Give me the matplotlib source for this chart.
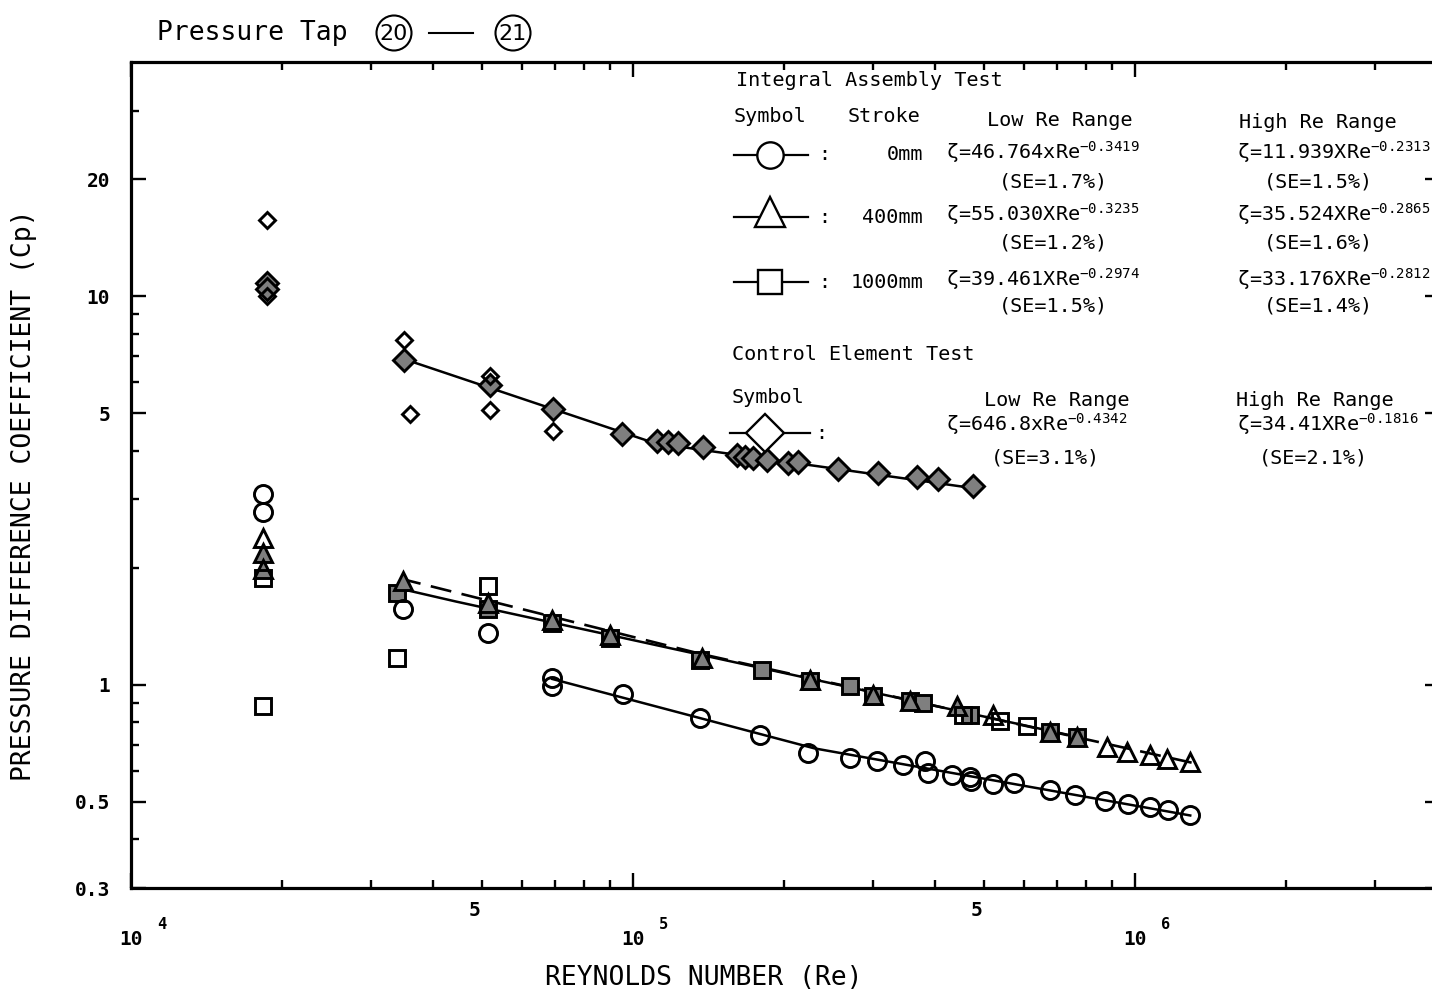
import matplotlib
matplotlib.use("Agg")
import matplotlib.pyplot as plt
from matplotlib.lines import Line2D
from matplotlib.patches import Ellipse
from matplotlib.ticker import FixedLocator, FixedFormatter, NullFormatter

# ── Data ───────────────────────────────────────────────────────────────────
# Control element test (diamonds)
dia_open_re = [18700, 18700, 35000, 36000, 51900, 51900, 69300]
dia_open_cp = [15.7, 10.0, 7.72, 4.96, 6.21, 5.08, 4.49]
dia_shad_re = [18700, 18700, 35000, 51900, 69300, 95000, 111700, 117500, 123000,
               137800, 161000, 167000, 173300, 184800, 203600, 213200, 256000,
               307500, 368000, 405000, 475600]
dia_shad_cp = [10.8, 10.4, 6.86, 5.92, 5.11, 4.41, 4.23, 4.21, 4.18,
               4.08, 3.90, 3.85, 3.83, 3.78, 3.72, 3.74, 3.59,
               3.50, 3.42, 3.38, 3.25]

# Integral assembly test, stroke 0 mm (circles)
cir_re = [18300, 18300, 34800, 51400, 69000, 69000, 95500, 135900, 179000, 223300,
          270600, 306100, 345000, 381900, 387200, 432000, 469000, 472000, 521000,
          574000, 677500, 759000, 871000, 968000, 1071000, 1164000, 1288000]
cir_cp = [3.10, 2.79, 1.57, 1.36, 1.04, 0.99, 0.948, 0.823, 0.741, 0.666,
          0.647, 0.635, 0.621, 0.635, 0.592, 0.585, 0.578, 0.565, 0.555,
          0.558, 0.536, 0.520, 0.502, 0.493, 0.485, 0.476, 0.462]

# stroke 400 mm (triangles)
tri_open_re = [18300, 521000, 879000, 963000, 1071000, 1158000, 1288000]
tri_open_cp = [2.38, 0.834, 0.690, 0.670, 0.658, 0.643, 0.632]
tri_shad_re = [18300, 18300, 34800, 51400, 69000, 90000, 137000, 225400, 300800,
               356300, 442000, 677500, 766000]
tri_shad_cp = [2.18, 1.99, 1.845, 1.62, 1.47, 1.34, 1.17, 1.03, 0.94,
               0.91, 0.88, 0.754, 0.732]

# stroke 1000 mm (squares)
sq_open_re = [18300, 18300, 33880, 51400, 454300, 538000, 609500]
sq_open_cp = [1.88, 0.884, 1.17, 1.80, 0.838, 0.809, 0.785]
sq_shad_re = [33880, 51400, 69000, 90000, 135900, 180700, 225400, 270600, 300800,
              356300, 378200, 469000, 677500, 766000]
sq_shad_cp = [1.72, 1.57, 1.44, 1.32, 1.16, 1.09, 1.02, 0.994, 0.937,
              0.910, 0.899, 0.838, 0.754, 0.732]

# fitted curves (start, low/high break, end)
fit_cir_re = [69000, 229800, 1288000]
fit_cir_cp = [1.035, 0.686, 0.461]
fit_tri_re = [34350, 137000, 1299000]
fit_tri_cp = [1.876, 1.199, 0.630]
fit_sq_re = [33000, 44400, 769000]
fit_sq_cp = [1.788, 1.637, 0.734]
fit_dia_re = [35140, 110700, 479800]
fit_dia_cp = [6.87, 4.18, 3.20]

y_ticks = [0.3, 0.5, 1, 5, 10, 20]
y_ticklabels = ["0.3", "0.5", "1", "5", "10", "20"]
y_minor = [0.4, 0.6, 0.7, 0.8, 0.9, 2, 3, 4, 6, 7, 8, 9, 30]
x_decades = [1e4, 1e5, 1e6]
x_exponents = ["4", "5", "6"]
x_fives = [5e4, 5e5]

# ── Style ──────────────────────────────────────────────────────────────────
W, H = 1432, 996
plt.rcParams.update({
    "font.family": ["DejaVu Sans Mono", "DejaVu Sans"],
    "mathtext.fontset": "custom",
    "mathtext.rm": "DejaVu Sans Mono",
    "mathtext.it": "DejaVu Sans Mono",
    "mathtext.bf": "DejaVu Sans Mono:bold",
})
SHADE = "#7f7f7f"
TXT = 14.5


def fp(px, py):
    """pixel position -> figure fraction"""
    return px / W, 1 - py / H


fig = plt.figure(figsize=(W / 100, H / 100), dpi=100)
ax = fig.add_axes([131 / W, 1 - 888 / H, (1440 - 131) / W, (888 - 62) / H])
ax.set_xscale("log")
ax.set_yscale("log")
ax.set_xlim(1e4, 4.05e6)
ax.set_ylim(0.3, 40)

for sp in ax.spines.values():
    sp.set_linewidth(2.3)
ax.tick_params(which="both", direction="in", top=True, right=True, width=1.7)
ax.tick_params(which="major", length=11)
ax.tick_params(which="minor", length=6)

ax.xaxis.set_major_locator(FixedLocator(x_decades))
ax.xaxis.set_minor_locator(FixedLocator([k * d for d in x_decades for k in range(2, 10)]))
ax.xaxis.set_major_formatter(NullFormatter())
ax.xaxis.set_minor_formatter(NullFormatter())

ax.yaxis.set_major_locator(FixedLocator(y_ticks))
ax.yaxis.set_major_formatter(FixedFormatter(y_ticklabels))
ax.yaxis.set_minor_locator(FixedLocator(y_minor))
ax.yaxis.set_minor_formatter(NullFormatter())
ax.tick_params(axis="y", which="major", pad=15, labelsize=14)
for lab in ax.get_yticklabels():
    lab.set_fontweight("bold")

for v, e in zip(x_decades, x_exponents):
    ax.annotate("10", xy=(v, 0), xycoords=("data", "axes fraction"),
                xytext=(0, -37), textcoords="offset points",
                ha="center", va="center", fontsize=14, fontweight="bold")
    ax.annotate(e, xy=(v, 0), xycoords=("data", "axes fraction"),
                xytext=(22, -26), textcoords="offset points",
                ha="center", va="center", fontsize=11, fontweight="bold")
for v in x_fives:
    ax.annotate("5", xy=(v, 0), xycoords=("data", "axes fraction"),
                xytext=(-5, -16), textcoords="offset points",
                ha="center", va="center", fontsize=14, fontweight="bold")

# ── Fit lines ──────────────────────────────────────────────────────────────
ax.plot(fit_dia_re, fit_dia_cp, color="black", lw=1.8, zorder=2)
ax.plot(fit_cir_re, fit_cir_cp, color="black", lw=1.8, zorder=2)
ax.plot(fit_sq_re, fit_sq_cp, color="black", lw=1.8, zorder=2)
ax.plot(fit_tri_re, fit_tri_cp, color="black", lw=1.9, zorder=2,
        dashes=(8, 4))

# ── Markers ────────────────────────────────────────────────────────────────
mk = dict(ls="none", mec="black", mew=2.1, zorder=3)
ax.plot(sq_shad_re, sq_shad_cp, marker="s", ms=12, mfc=SHADE, **mk)
ax.plot(tri_shad_re, tri_shad_cp, marker="^", ms=13, mfc=SHADE, **mk)
ax.plot(sq_open_re, sq_open_cp, marker="s", ms=12, mfc="none", **mk)
ax.plot(tri_open_re, tri_open_cp, marker="^", ms=13, mfc="none", **mk)
ax.plot(cir_re, cir_cp, marker="o", ms=13, mfc="none", **mk)
ax.plot(dia_shad_re, dia_shad_cp, marker="D", ms=11, mfc=SHADE, **mk)
ax.plot(dia_open_re, dia_open_cp, marker="D", ms=8.5, mfc="none", **mk)

# ── Title with circled tap numbers ─────────────────────────────────────────
fig.text(*fp(157, 33), "Pressure Tap", fontsize=19, va="center", ha="left")
for cx, lab in [(394, "20"), (513, "21")]:
    fig.text(*fp(cx, 34), lab, fontsize=16, va="center", ha="center",
             family="DejaVu Sans")
    fig.add_artist(Ellipse(fp(cx, 33), 35 / W, 35 / H, transform=fig.transFigure,
                           fill=False, lw=1.5, color="black"))
fig.add_artist(Line2D([429 / W, 473 / W], [1 - 33 / H, 1 - 33 / H],
                      transform=fig.transFigure, color="black", lw=1.5))

# ── Axis titles ────────────────────────────────────────────────────────────
fig.text(*fp(24, 495), "PRESSURE DIFFERENCE COEFFICIENT (Cp)", rotation=90,
         fontsize=19, ha="center", va="center")
fig.text(*fp(704, 978), "REYNOLDS NUMBER (Re)", fontsize=19, ha="center", va="center")

# ── Legend block ───────────────────────────────────────────────────────────
fig.text(*fp(736, 81), "Integral Assembly Test", fontsize=TXT, va="center")
fig.text(*fp(734, 117), "Symbol", fontsize=TXT, va="center")
fig.text(*fp(848, 117), "Stroke", fontsize=TXT, va="center")
fig.text(*fp(1060, 120), "Low Re Range", fontsize=TXT, va="center", ha="center")
fig.text(*fp(1318, 122), "High Re Range", fontsize=TXT, va="center", ha="center")

rows = [
    (155, 182, "o", 19, "0mm", r"ζ=46.764xRe$^{-0.3419}$", "(SE=1.7%)",
     r"ζ=11.939XRe$^{-0.2313}$", "(SE=1.5%)", 155),
    (217, 243, "^", 22, "400mm", r"ζ=55.030XRe$^{-0.3235}$", "(SE=1.2%)",
     r"ζ=35.524XRe$^{-0.2865}$", "(SE=1.6%)", 212),
    (282, 306, "s", 17, "1000mm", r"ζ=39.461XRe$^{-0.2974}$", "(SE=1.5%)",
     r"ζ=33.176XRe$^{-0.2812}$", "(SE=1.4%)", 282),
]
for y, yse, m, ms, stroke, lo, lose, hi, hise, ym in rows:
    fig.add_artist(Line2D([734 / W, 808 / W], [1 - (ym + (5 if m == "^" else 0)) / H] * 2,
                          transform=fig.transFigure, color="black", lw=1.6))
    fig.add_artist(Line2D([770 / W], [1 - ym / H], transform=fig.transFigure,
                          marker=m, ms=ms, mfc="white", mec="black", mew=1.7))
    fig.text(*fp(818, y), ":", fontsize=TXT, va="center")
    fig.text(*fp(923, y), stroke, fontsize=TXT, va="center", ha="right")
    fig.text(*fp(946, y - 3), lo, fontsize=14.5, va="center")
    fig.text(*fp(1053, yse), lose, fontsize=TXT, va="center", ha="center")
    fig.text(*fp(1237, y - 3), hi, fontsize=14.5, va="center")
    fig.text(*fp(1318, yse), hise, fontsize=TXT, va="center", ha="center")

fig.text(*fp(732, 355), "Control Element Test", fontsize=TXT, va="center")
fig.text(*fp(732, 397), "Symbol", fontsize=TXT, va="center")
fig.text(*fp(1057, 400), "Low Re Range", fontsize=TXT, va="center", ha="center")
fig.text(*fp(1315, 400), "High Re Range", fontsize=TXT, va="center", ha="center")
fig.add_artist(Line2D([730 / W, 810 / W], [1 - 433 / H] * 2,
                      transform=fig.transFigure, color="black", lw=1.6))
fig.add_artist(Line2D([765 / W], [1 - 433 / H], transform=fig.transFigure,
                      marker="D", ms=19, mfc="white", mec="black", mew=1.7))
fig.text(*fp(815, 433), ":", fontsize=TXT, va="center")
fig.text(*fp(946, 424), r"ζ=646.8xRe$^{-0.4342}$", fontsize=14.5, va="center")
fig.text(*fp(1045, 458), "(SE=3.1%)", fontsize=TXT, va="center", ha="center")
fig.text(*fp(1237, 424), r"ζ=34.41XRe$^{-0.1816}$", fontsize=14.5, va="center")
fig.text(*fp(1313, 458), "(SE=2.1%)", fontsize=TXT, va="center", ha="center")

fig.savefig("out.png", dpi=100)
